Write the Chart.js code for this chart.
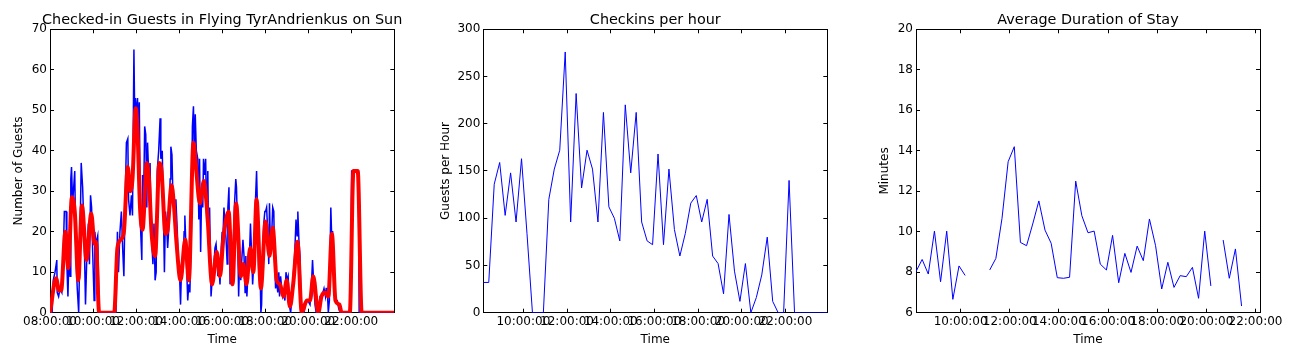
<!DOCTYPE html>
<html>
<head>
<meta charset="utf-8">
<script src="https://cdn.jsdelivr.net/npm/chart.js@4.4.1/dist/chart.umd.min.js"></script>
<style>
  html, body { margin: 0; background: #fff; overflow: hidden; }
  #wrap { position: relative; width: 1298px; height: 362px; }
  canvas { position: absolute; top: 0; }
</style>
</head>
<body>
<div id="wrap">
  <canvas id="guests" width="445" height="362" style="left:0px"></canvas>
  <canvas id="checkins" width="451" height="362" style="left:430px"></canvas>
  <canvas id="stay" width="436" height="362" style="left:870px"></canvas>
</div>
<script>
// checked-in guests, raw counts (minutes after 08:00)
let guestMinutes = [0,6,9,14,19,20,24,28,33,37,40,45,47,50,53,56,58,60,63,66,69,72,76,80,84,87,91,95,99,103,107,110,113,116,119,123,125,128,133,137,
    184,188,191,195,199,203,206,209,213,217,219,223,227,230,234,236,238,241,244,246,249,252,256,258,261,264,267,270,272,276,279,282,284,287,290,293,296,299,
    303,307,309,313,316,319,322,325,328,332,335,337,340,343,346,349,351,355,358,361,364,367,370,374,376,380,384,387,390,394,397,
    400,402,405,408,412,415,417,420,423,426,428,431,434,437,440,442,445,449,452,454,457,460,463,466,468,471,474,477,480,482,485,488,491,494,496,499,
    502,505,508,511,514,518,520,523,526,529,532,534,538,541,544,546,549,553,556,559,562,565,568,571,573,576,579,582,585,588,590,593,596,599,
    601,604,607,610,612,615,618,621,624,626,629,632,635,638,640,643,646,649,652,655,658,661,664,667,671,675,678,682,686,689,691,694,697,700,
    703,708,714,719,725,729,732,736,739,742,748,753,758,764,768,770,773,776,779,783,785,788,791,795,797,801,805,809,838,841,860,862,960]
let guestCounts = [0,0,8,10,13,5,4,6,5,15,25,25,12,4,15,9,33,36,27,31,35,15,6,0,20,37,31,20,2,15,22,12,29,26,15,3,20,17,19,0,
    0,20,10,20,25,15,9,25,42,43,28,24,29,24,65,50,53,49,53,45,52,22,13,34,28,46,44,26,42,32,37,21,17,12,22,8,10,35,
    40,48,38,40,26,10,25,22,16,22,33,41,39,28,26,22,28,20,12,10,2,12,10,20,24,14,3,7,5,20,46,
    51,39,49,40,38,23,38,15,31,26,38,34,38,22,35,19,26,4,8,7,12,16,17,13,9,11,7,15,20,18,26,22,18,12,26,31,
    7,11,7,17,26,33,31,20,4,14,8,12,18,14,5,14,4,12,14,22,15,7,12,14,28,35,24,10,14,0,2,16,22,25,
    25,26,20,12,27,15,19,26,25,14,6,8,5,10,4,9,6,4,5,3,10,8,9,2,0,4,9,14,23,19,25,18,14,2,
    0,0,3,3,2,7,13,6,2,0,0,4,4,6,4,6,6,0,3,26,20,20,10,3,3,3,1,0,0,35,35,0,0]

// smoothed guests (red)
let smoothMinutes = [0,17,25,31,43,51,61,69,79,89,102,115,124,128,137,179,188,197,206,217,223,230,239,244,251,258,270,276,283,293,
    305,311,322,327,339,346,353,364,377,387,400,407,418,429,439,452,465,474,483,498,509,519,532,539,548,558,567,576,588,601,
    612,621,632,641,651,660,669,678,690,702,716,725,734,748,757,767,776,786,796,807,813,836,846,858,869,960]
let smoothCounts = [0,8.5,5.5,5.5,20,11,28.5,25,8,26.5,13,24.5,17,17.5,0,0,16,18,20,36,30,33,50.5,45,26,20.5,37,33,20,14,
    37,35,19.5,20,31.5,26,17,8,18,8,42,36,27,32.5,24,7,15,9,18,25,7,27,9,12,7,16,10,28,6,22.5,
    14,21,8,7,4,8,1.5,7,17.5,0,3,3,9,0,4,5,4,19.5,3,2,0,0,35,35,0,0]

// checkins per hour
let checkinTimes = ['08:10','08:25','08:40','08:55','09:10','09:25','09:40','09:55','10:10','10:25','10:40','10:55',
    '11:10','11:25','11:40','11:55','12:10','12:25','12:40','12:55','13:10','13:25','13:40','13:55',
    '14:10','14:25','14:40','14:55','15:10','15:25','15:40','15:55','16:10','16:25','16:40','16:55',
    '17:10','17:25','17:40','17:55','18:10','18:25','18:40','18:55','19:10','19:25','19:40','19:55',
    '20:10','20:25','20:40','20:55','21:10','21:25','21:40','21:55','22:10','22:25','22:40','22:55',
    '23:10','23:25','23:40','23:55']
let checkinCounts = [32,32,136,159,103,148,96,163,84,0,0,0,120,152,172,276,96,232,132,172,152,96,212,112,
    100,76,220,148,212,96,76,72,168,72,152,88,60,84,116,124,96,120,60,52,20,104,44,12,52,0,
    16,40,80,12,0,0,140,0,0,0,0,0,0,0]

// average duration of stay (minutes), null = no data
let stayTimes = ['08:11','08:26','08:41','08:56','09:11','09:26','09:41','09:56','10:11','10:26','10:41','10:56',
    '11:11','11:26','11:41','11:56','12:11','12:26','12:41','12:56','13:11','13:26','13:41','13:56',
    '14:11','14:26','14:41','14:56','15:11','15:26','15:41','15:56','16:11','16:26','16:41','16:56',
    '17:11','17:26','17:41','17:56','18:11','18:26','18:41','18:56','19:11','19:26','19:41','19:56',
    '20:11','20:26','20:41','20:56','21:11','21:26','21:41','21:56','22:11']
let stayMinutes = [8.03,8.63,7.91,10.03,7.53,10.03,6.66,8.31,7.84,null,null,null,
    8.11,8.68,10.66,13.46,14.2,9.47,9.31,10.38,11.52,10.08,9.43,7.73,7.70,7.75,12.5,10.79,9.95,10.03,
    8.40,8.11,9.82,7.48,8.93,7.99,9.29,8.57,10.63,9.31,7.17,8.49,7.25,7.83,7.78,8.24,6.71,10.03,7.32,
    null,9.59,7.70,9.15,6.33,null,null,null]

let guestTicks = ['08:00:00','10:00:00','12:00:00','14:00:00','16:00:00','18:00:00','20:00:00','22:00:00']
let hourTicks = ['10:00:00','12:00:00','14:00:00','16:00:00','18:00:00','20:00:00','22:00:00']

Chart.defaults.font.family = 'DejaVu Sans'
Chart.defaults.font.size = 12
Chart.defaults.color = '#000'

const toHours = t => {
    let p = t.split(':').map(Number)
    return p[0] + p[1] / 60
}

// y axis width is mirrored on the right so the title centres over the plot area
function makeScales(xMin, xMax, tickLabels, yMin, yMax, yStep, yTitle, yWidth, yTitlePad) {
    const grid = { drawOnChartArea: false, tickLength: -4, tickColor: '#000', tickWidth: 1 }
    const border = { color: '#000', width: 1 }
    const setTicks = s => { s.ticks = tickLabels.map(t => ({ value: toHours(t) })) }
    return {
        x: {
            type: 'linear', min: xMin, max: xMax, grid, border,
            afterBuildTicks: setTicks,
            afterFit: s => { s.height = 49.3 },
            ticks: { padding: 6.3, maxRotation: 0, autoSkip: false, callback: (v, i) => tickLabels[i] },
            title: { display: true, text: 'Time', padding: { top: 0, bottom: 14.8 } }
        },
        x2: {
            type: 'linear', position: 'top', min: xMin, max: xMax, grid, border,
            afterBuildTicks: setTicks,
            afterFit: s => { s.height = 0 },
            ticks: { display: false }
        },
        y: {
            min: yMin, max: yMax, grid, border,
            afterFit: s => { s.width = yWidth },
            ticks: { stepSize: yStep, padding: 7 },
            title: { display: true, text: yTitle, padding: { top: yTitlePad, bottom: 0 } }
        },
        y2: {
            position: 'right', min: yMin, max: yMax, grid, border,
            afterFit: s => { s.width = yWidth },
            ticks: { display: false, stepSize: yStep }
        }
    }
}

function plugins(title) {
    return {
        legend: { display: false },
        tooltip: { enabled: false },
        title: { display: true, text: title, color: '#000', font: { size: 14.4, weight: 'normal' }, padding: { top: 11.4, bottom: 0.6 } }
    }
}

const guestChart = new Chart(document.getElementById('guests'), {
    type: 'line',
    data: {
        datasets: [{
            data: guestMinutes.map((m, i) => ({ x: 8 + m / 60, y: guestCounts[i] })),
            borderColor: '#0000ff',
            borderWidth: 1.5,
            pointRadius: 0,
            order: 1
        }, {
            data: smoothMinutes.map((m, i) => ({ x: 8 + m / 60, y: smoothCounts[i] })),
            borderColor: '#ff0000',
            borderWidth: 4,
            pointRadius: 0,
            cubicInterpolationMode: 'monotone',
            order: 0
        }]
    },
    options: {
        responsive: false, animation: false, devicePixelRatio: 1,
        layout: { padding: { left: 0, right: 0.7, top: 0, bottom: 0 } },
        scales: makeScales(8, 24, guestTicks, 0, 70, 10, 'Number of Guests', 50, 11.8),
        plugins: plugins('Checked-in Guests in Flying TyrAndrienkus on Sun')
    }
})

const checkinChart = new Chart(document.getElementById('checkins'), {
    type: 'line',
    data: {
        datasets: [{
            data: checkinTimes.map((t, i) => ({ x: toHours(t), y: checkinCounts[i] })),
            borderColor: '#0000ff',
            borderWidth: 1,
            pointRadius: 0
        }]
    },
    options: {
        responsive: false, animation: false, devicePixelRatio: 1,
        layout: { padding: { left: 0, right: 0.4, top: 0, bottom: 0 } },
        scales: makeScales(toHours(checkinTimes[0]), toHours(checkinTimes[checkinTimes.length - 1]), hourTicks, 0, 300, 50, 'Guests per Hour', 53.3, 8.3),
        plugins: plugins('Checkins per hour')
    }
})

const stayChart = new Chart(document.getElementById('stay'), {
    type: 'line',
    data: {
        datasets: [{
            data: stayTimes.map((t, i) => ({ x: toHours(t), y: stayMinutes[i] })),
            borderColor: '#0000ff',
            borderWidth: 1,
            pointRadius: 0,
            spanGaps: false
        }]
    },
    options: {
        responsive: false, animation: false, devicePixelRatio: 1,
        layout: { padding: { left: 0, right: 0, top: 0, bottom: 0 } },
        scales: makeScales(toHours(stayTimes[0]), toHours(stayTimes[stayTimes.length - 1]), hourTicks, 6, 20, 2, 'Minutes', 46, 8.1),
        plugins: plugins('Average Duration of Stay')
    }
})
</script>
</body>
</html>
